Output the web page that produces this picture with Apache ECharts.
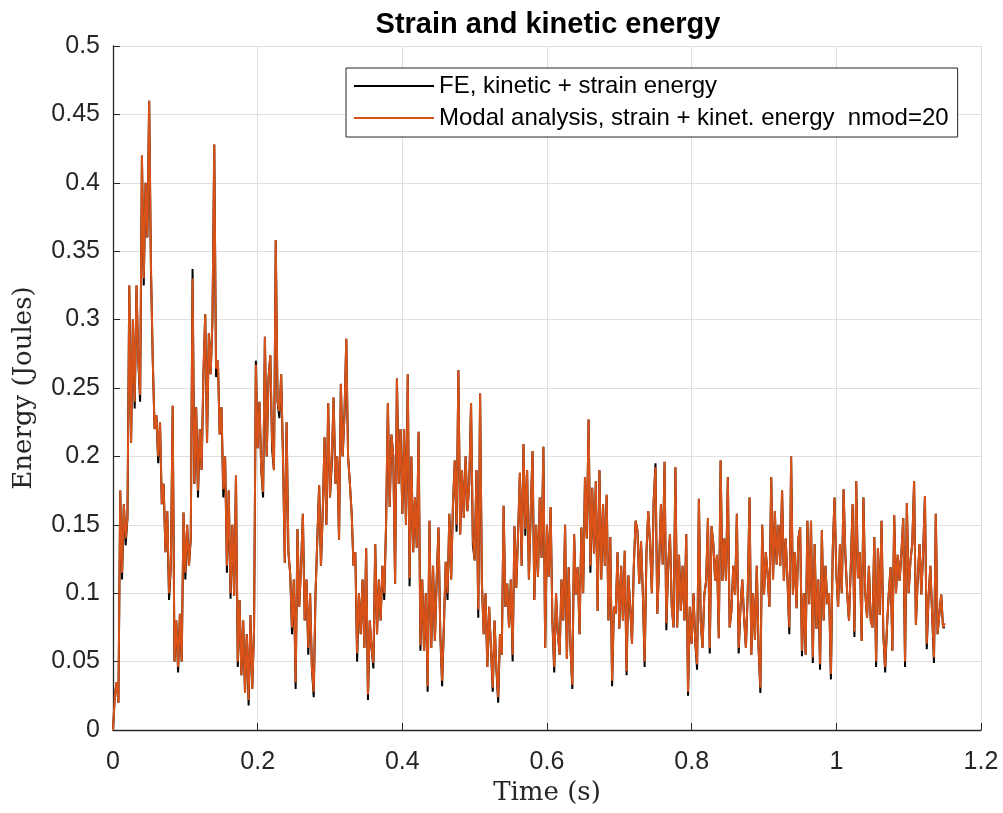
<!DOCTYPE html>
<html>
<head>
<meta charset="utf-8">
<title>Strain and kinetic energy</title>
<script src="https://cdn.jsdelivr.net/npm/echarts@6/dist/echarts.min.js"></script>
<style>
  html, body { margin: 0; padding: 0; background: #fff; }
  #main { width: 1003px; height: 813px; }
</style>
</head>
<body>
<div id="main"></div>
<script>
// sampling of both signals (s)
const timeStep = 0.0025;

// FE, kinetic + strain energy (J)
const feEnergy = [
  0, 0.025, 0.035, 0.02, 0.175, 0.11, 0.165, 0.135, 0.155, 0.325,
  0.21, 0.3, 0.235, 0.325, 0.27, 0.24, 0.42, 0.325, 0.4, 0.36,
  0.46, 0.335, 0.27, 0.22, 0.23, 0.195, 0.225, 0.165, 0.18, 0.13,
  0.16, 0.095, 0.12, 0.237, 0.05, 0.08, 0.042, 0.085, 0.05, 0.159,
  0.11, 0.15, 0.12, 0.14, 0.337, 0.18, 0.236, 0.17, 0.22, 0.19,
  0.26, 0.304, 0.21, 0.29, 0.26, 0.3, 0.428, 0.258, 0.27, 0.216,
  0.236, 0.17, 0.2, 0.115, 0.175, 0.096, 0.15, 0.098, 0.186, 0.046,
  0.095, 0.04, 0.08, 0.027, 0.07, 0.018, 0.084, 0.03, 0.074, 0.27,
  0.206, 0.24, 0.19, 0.17, 0.2875, 0.2, 0.257, 0.274, 0.205, 0.19,
  0.358, 0.24, 0.228, 0.26, 0.2, 0.122, 0.225, 0.13, 0.114, 0.07,
  0.11, 0.03, 0.147, 0.09, 0.12, 0.158, 0.08, 0.11, 0.055, 0.1,
  0.045, 0.024, 0.1, 0.14, 0.179, 0.12, 0.16, 0.214, 0.15, 0.239,
  0.17, 0.195, 0.243, 0.18, 0.2, 0.139, 0.253, 0.2, 0.23, 0.286,
  0.2, 0.18, 0.158, 0.12, 0.13, 0.05, 0.1, 0.07, 0.11, 0.06,
  0.133, 0.022, 0.08, 0.06, 0.045, 0.136, 0.07, 0.11, 0.08, 0.12,
  0.095, 0.15, 0.239, 0.163, 0.216, 0.2, 0.107, 0.257, 0.18, 0.22,
  0.158, 0.22, 0.15, 0.26, 0.105, 0.2, 0.13, 0.17, 0.133, 0.218,
  0.058, 0.11, 0.058, 0.1, 0.028, 0.153, 0.06, 0.12, 0.065, 0.11,
  0.148, 0.07, 0.032, 0.077, 0.123, 0.095, 0.158, 0.11, 0.165, 0.197,
  0.145, 0.263, 0.143, 0.19, 0.155, 0.2, 0.16, 0.18, 0.239, 0.135,
  0.124, 0.19, 0.082, 0.246, 0.107, 0.07, 0.1, 0.046, 0.09, 0.06,
  0.028, 0.08, 0.045, 0.02, 0.07, 0.055, 0.164, 0.09, 0.107, 0.075,
  0.11, 0.05, 0.149, 0.104, 0.143, 0.188, 0.12, 0.209, 0.142, 0.19,
  0.11, 0.16, 0.204, 0.095, 0.15, 0.112, 0.17, 0.126, 0.207, 0.06,
  0.15, 0.112, 0.163, 0.079, 0.042, 0.1, 0.07, 0.055, 0.11, 0.08,
  0.15, 0.052, 0.119, 0.06, 0.03, 0.143, 0.099, 0.119, 0.07, 0.148,
  0.1, 0.185, 0.14, 0.227, 0.115, 0.177, 0.129, 0.182, 0.087, 0.19,
  0.11, 0.165, 0.12, 0.172, 0.08, 0.141, 0.032, 0.09, 0.085, 0.13,
  0.074, 0.12, 0.08, 0.131, 0.04, 0.113, 0.09, 0.063, 0.12, 0.153,
  0.146, 0.107, 0.138, 0.1, 0.046, 0.13, 0.16, 0.136, 0.1, 0.168,
  0.195, 0.085, 0.12, 0.165, 0.121, 0.196, 0.073, 0.12, 0.143, 0.09,
  0.075, 0.192, 0.075, 0.128, 0.087, 0.12, 0.08, 0.143, 0.025, 0.09,
  0.063, 0.1, 0.064, 0.044, 0.169, 0.08, 0.06, 0.099, 0.109, 0.155,
  0.056, 0.149, 0.136, 0.109, 0.128, 0.067, 0.197, 0.109, 0.14, 0.109,
  0.185, 0.075, 0.087, 0.12, 0.099, 0.158, 0.056, 0.09, 0.11, 0.082,
  0.06, 0.1, 0.17, 0.055, 0.1, 0.066, 0.12, 0.06, 0.027, 0.15,
  0.099, 0.13, 0.114, 0.09, 0.185, 0.11, 0.16, 0.121, 0.15, 0.12,
  0.175, 0.109, 0.14, 0.109, 0.07, 0.2, 0.099, 0.13, 0.089, 0.14,
  0.148, 0.054, 0.1, 0.055, 0.153, 0.092, 0.153, 0.049, 0.136, 0.074,
  0.11, 0.044, 0.146, 0.08, 0.12, 0.092, 0.1, 0.037, 0.131, 0.17,
  0.114, 0.09, 0.136, 0.1, 0.176, 0.128, 0.1, 0.08, 0.12, 0.165,
  0.068, 0.182, 0.111, 0.13, 0.065, 0.17, 0.1, 0.082, 0.12, 0.08,
  0.075, 0.141, 0.046, 0.133, 0.084, 0.153, 0.07, 0.042, 0.075, 0.1,
  0.119, 0.058, 0.157, 0.1, 0.128, 0.109, 0.13, 0.155, 0.046, 0.166,
  0.1, 0.124, 0.136, 0.182, 0.077, 0.11, 0.136, 0.099, 0.13, 0.171,
  0.059, 0.097, 0.12, 0.084, 0.049, 0.158, 0.07, 0.085, 0.099, 0.075,
  0.075
];

// Modal analysis, strain + kinetic energy, nmod=20 (J)
const modalEnergy = [
  0, 0.025, 0.035, 0.02, 0.175, 0.115, 0.165, 0.14, 0.155, 0.325,
  0.21, 0.3, 0.24, 0.325, 0.27, 0.245, 0.42, 0.33, 0.4, 0.36,
  0.46, 0.34, 0.27, 0.22, 0.23, 0.2, 0.225, 0.165, 0.18, 0.13,
  0.16, 0.1, 0.12, 0.237, 0.05, 0.08, 0.046, 0.085, 0.05, 0.159,
  0.115, 0.15, 0.12, 0.14, 0.33, 0.18, 0.236, 0.175, 0.22, 0.19,
  0.26, 0.304, 0.21, 0.29, 0.26, 0.3, 0.428, 0.264, 0.27, 0.216,
  0.236, 0.176, 0.2, 0.12, 0.175, 0.1, 0.15, 0.098, 0.186, 0.05,
  0.095, 0.04, 0.08, 0.027, 0.07, 0.022, 0.084, 0.03, 0.074, 0.267,
  0.206, 0.24, 0.19, 0.174, 0.2875, 0.2, 0.257, 0.274, 0.21, 0.19,
  0.358, 0.24, 0.233, 0.26, 0.2, 0.122, 0.225, 0.13, 0.114, 0.075,
  0.11, 0.035, 0.147, 0.09, 0.12, 0.158, 0.08, 0.11, 0.06, 0.1,
  0.045, 0.028, 0.1, 0.14, 0.179, 0.12, 0.16, 0.214, 0.15, 0.239,
  0.17, 0.2, 0.243, 0.18, 0.2, 0.139, 0.253, 0.2, 0.23, 0.286,
  0.2, 0.18, 0.158, 0.12, 0.13, 0.056, 0.1, 0.07, 0.11, 0.06,
  0.133, 0.026, 0.08, 0.06, 0.049, 0.136, 0.07, 0.11, 0.08, 0.12,
  0.1, 0.15, 0.239, 0.163, 0.216, 0.2, 0.107, 0.257, 0.18, 0.22,
  0.158, 0.22, 0.15, 0.26, 0.111, 0.2, 0.13, 0.17, 0.133, 0.218,
  0.062, 0.11, 0.058, 0.1, 0.032, 0.153, 0.06, 0.12, 0.065, 0.11,
  0.148, 0.07, 0.036, 0.077, 0.123, 0.1, 0.158, 0.11, 0.165, 0.197,
  0.15, 0.263, 0.143, 0.19, 0.155, 0.2, 0.16, 0.18, 0.239, 0.14,
  0.124, 0.19, 0.088, 0.246, 0.107, 0.07, 0.1, 0.046, 0.09, 0.06,
  0.031, 0.08, 0.045, 0.024, 0.07, 0.055, 0.164, 0.09, 0.107, 0.075,
  0.11, 0.055, 0.149, 0.104, 0.143, 0.188, 0.12, 0.209, 0.147, 0.19,
  0.11, 0.16, 0.204, 0.095, 0.15, 0.112, 0.17, 0.126, 0.207, 0.06,
  0.15, 0.112, 0.163, 0.079, 0.046, 0.1, 0.07, 0.055, 0.11, 0.08,
  0.15, 0.052, 0.119, 0.06, 0.033, 0.143, 0.099, 0.119, 0.07, 0.148,
  0.1, 0.185, 0.14, 0.227, 0.12, 0.177, 0.129, 0.182, 0.087, 0.19,
  0.11, 0.165, 0.12, 0.172, 0.08, 0.141, 0.036, 0.09, 0.085, 0.13,
  0.074, 0.12, 0.08, 0.131, 0.043, 0.113, 0.09, 0.063, 0.12, 0.153,
  0.146, 0.107, 0.138, 0.1, 0.05, 0.13, 0.16, 0.136, 0.1, 0.168,
  0.192, 0.085, 0.12, 0.165, 0.121, 0.196, 0.078, 0.12, 0.143, 0.09,
  0.075, 0.192, 0.075, 0.128, 0.087, 0.12, 0.08, 0.143, 0.028, 0.09,
  0.063, 0.1, 0.064, 0.048, 0.169, 0.08, 0.06, 0.099, 0.109, 0.155,
  0.06, 0.149, 0.136, 0.109, 0.128, 0.067, 0.197, 0.109, 0.14, 0.109,
  0.185, 0.075, 0.087, 0.12, 0.099, 0.158, 0.06, 0.09, 0.11, 0.082,
  0.06, 0.1, 0.17, 0.055, 0.1, 0.066, 0.12, 0.06, 0.031, 0.15,
  0.099, 0.13, 0.114, 0.09, 0.185, 0.11, 0.16, 0.121, 0.15, 0.12,
  0.175, 0.109, 0.14, 0.109, 0.075, 0.2, 0.099, 0.13, 0.089, 0.14,
  0.148, 0.058, 0.1, 0.055, 0.153, 0.092, 0.153, 0.053, 0.136, 0.074,
  0.11, 0.048, 0.146, 0.08, 0.12, 0.092, 0.1, 0.041, 0.131, 0.17,
  0.114, 0.09, 0.136, 0.1, 0.176, 0.128, 0.1, 0.08, 0.12, 0.165,
  0.072, 0.182, 0.111, 0.13, 0.065, 0.17, 0.1, 0.082, 0.12, 0.08,
  0.075, 0.141, 0.05, 0.133, 0.084, 0.153, 0.07, 0.046, 0.075, 0.1,
  0.119, 0.058, 0.157, 0.1, 0.128, 0.109, 0.13, 0.155, 0.05, 0.166,
  0.1, 0.124, 0.136, 0.182, 0.077, 0.11, 0.136, 0.099, 0.13, 0.171,
  0.063, 0.097, 0.12, 0.084, 0.053, 0.158, 0.07, 0.085, 0.099, 0.075,
  0.078
];

const seriesNames = [
  'FE, kinetic + strain energy',
  'Modal analysis, strain + kinet. energy  nmod=20'
];

const toPairs = vals => vals.map((v, i) => [+(i * timeStep).toFixed(4), v]);

const axisColor = '#262626';
const sans = '"Liberation Sans", Arial, Helvetica, sans-serif';
const serif = '"DejaVu Serif", "Liberation Serif", serif';

const chart = echarts.init(document.getElementById('main'));

const option = {
  animation: false,
  backgroundColor: '#ffffff',
  title: {
    text: 'Strain and kinetic energy',
    left: 543,
    top: 5,
    textAlign: 'center',
    textStyle: { fontFamily: sans, fontSize: 29, fontWeight: 'bold', color: '#000' }
  },
  legend: {
    orient: 'vertical',
    left: 346,
    top: 68,
    icon: 'rect',
    itemWidth: 80,
    itemHeight: 2,
    itemGap: 8,
    padding: [6, 9, 7, 8],
    backgroundColor: '#ffffff',
    borderColor: axisColor,
    borderWidth: 1,
    borderRadius: 0,
    textStyle: { fontFamily: sans, fontSize: 24, color: '#000' },
    data: seriesNames
  },
  grid: { left: 113, right: 22, top: 46, bottom: 83, containLabel: false },
  xAxis: {
    type: 'value',
    min: 0,
    max: 1.2,
    interval: 0.2,
    name: 'Time (s)',
    nameLocation: 'middle',
    nameGap: 49,
    nameTextStyle: { fontFamily: serif, fontSize: 26, color: axisColor },
    axisLine: { lineStyle: { color: axisColor, width: 1.3 } },
    axisTick: { inside: true, length: 7, lineStyle: { color: axisColor } },
    axisLabel: { fontFamily: sans, fontSize: 25, color: axisColor, margin: 20 },
    splitLine: { show: true, lineStyle: { color: '#dfdfdf', width: 1 } }
  },
  yAxis: {
    type: 'value',
    min: 0,
    max: 0.5,
    interval: 0.05,
    name: 'Energy (Joules)',
    nameLocation: 'middle',
    nameGap: 76,
    nameTextStyle: { fontFamily: serif, fontSize: 26, color: axisColor },
    axisLine: { show: true, lineStyle: { color: axisColor, width: 1.3 } },
    axisTick: { show: true, inside: true, length: 7, lineStyle: { color: axisColor } },
    axisLabel: { fontFamily: sans, fontSize: 25, color: axisColor, margin: 13 },
    splitLine: { show: true, lineStyle: { color: '#dfdfdf', width: 1 } }
  },
  series: [
    {
      name: seriesNames[0],
      type: 'line',
      data: toPairs(feEnergy),
      symbol: 'none',
      showSymbol: false,
      lineStyle: { color: '#000000', width: 2 },
      itemStyle: { color: '#000000' }
    },
    {
      name: seriesNames[1],
      type: 'line',
      data: toPairs(modalEnergy),
      symbol: 'none',
      showSymbol: false,
      lineStyle: { color: '#D95319', width: 2 },
      itemStyle: { color: '#D95319' }
    }
  ]
};

chart.setOption(option);
</script>
</body>
</html>
